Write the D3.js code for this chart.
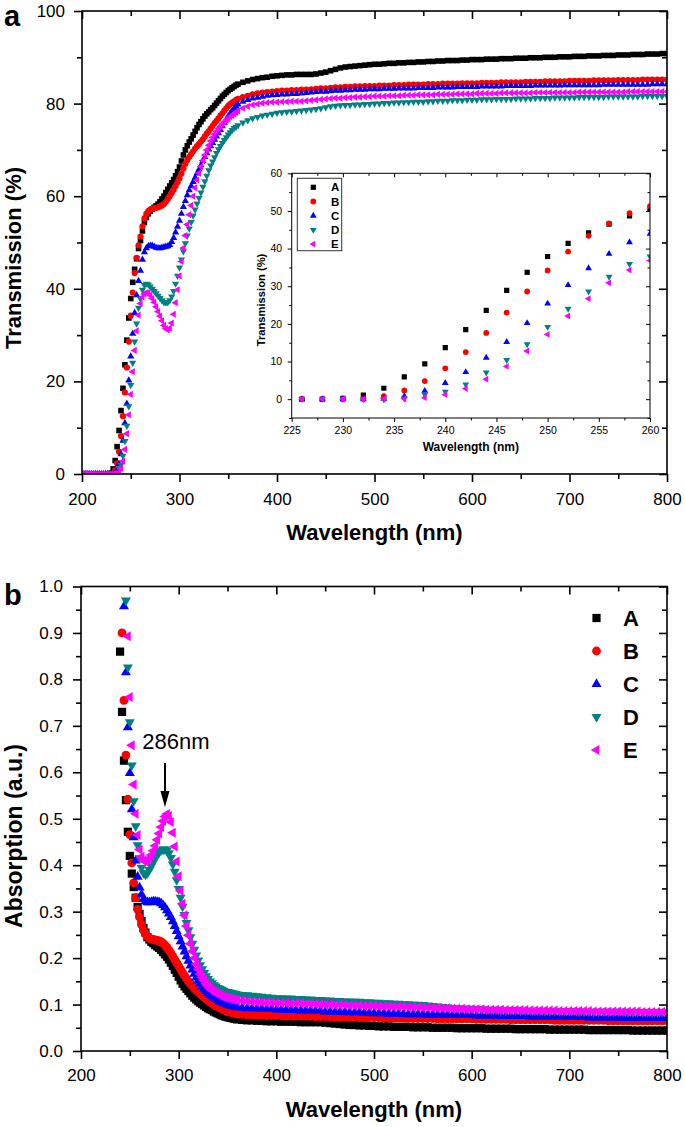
<!DOCTYPE html>
<html><head><meta charset="utf-8">
<script src="https://cdn.jsdelivr.net/npm/d3@7/dist/d3.min.js"></script>
<style>body{margin:0;background:#fff}svg{display:block}</style>
</head><body>
<svg id="chart" width="685" height="1127"></svg>
<script>
// ---------------- DATA ----------------
const seriesNames = ["A","B","C","D","E"];

const wlTrans = [200,202,204,206,208,210,212,214,216,218,220,222,224,
226,228,230,232,234,236,238,240,242,244,246,248,250,252,254,256,258,260,
262,264,266,268,270,272,274,276,278,280,282,284,286,288,290,292,294,296,298,300,
302,304,306,308,310,312,314,316,318,320,322,324,326,328,330,332,334,336,338,340,
342,344,346,348,350,352,354,356,358,360,
365,370,375,380,385,390,395,400,405,410,415,420,425,430,435,440,445,450,455,460,
465,470,475,480,485,490,495,500,505,510,515,520,525,530,535,540,545,550,555,560,
565,570,575,580,585,590,595,600,605,610,615,620,625,630,635,640,645,650,655,660,
665,670,675,680,685,690,695,700,705,710,715,720,725,730,735,740,745,750,755,760,
765,770,775,780,785,790,795,800];

const transA = [0,0,0,0,0,0,0,0,0,0,0,0,0,
0,0,0.2,1.1,2.9,5.9,9.4,13.7,18.5,23.6,28.9,33.7,37.9,41.4,44.2,46.5,48.7,50.4,
52.5,54.3,55.4,56.2,56.8,57.2,57.6,57.9,58.3,58.8,59.4,60.0,60.8,61.5,62.2,62.9,63.6,64.4,65.3,66.3,
67.6,68.9,70.0,70.9,71.7,72.4,73.2,74.0,74.8,75.5,76.1,76.7,77.3,77.8,78.2,78.7,79.1,79.6,80.1,80.6,
81.1,81.6,82.0,82.4,82.8,83.1,83.4,83.7,84.0,84.2,
84.6,84.9,85.2,85.4,85.6,85.7,85.9,86.0,86.1,86.2,86.2,86.3,86.3,86.3,86.3,86.4,86.6,86.8,87.1,87.4,
87.7,87.9,88.0,88.1,88.2,88.3,88.4,88.5,88.5,88.6,88.7,88.7,88.8,88.8,88.9,88.9,89.0,89.0,89.1,89.1,
89.2,89.2,89.3,89.3,89.3,89.4,89.4,89.5,89.5,89.5,89.6,89.6,89.6,89.7,89.7,89.7,89.8,89.8,89.8,89.9,
89.9,89.9,90.0,90.0,90.0,90.1,90.1,90.1,90.2,90.2,90.2,90.3,90.3,90.3,90.4,90.4,90.4,90.5,90.5,90.5,
90.6,90.6,90.6,90.7,90.7,90.7,90.8,90.8];

const transB = [0,0,0,0,0,0,0,0,0,0,0,0,0,
0,0,0,0.1,0.8,2.3,4.8,8.2,12.5,17.6,23.0,28.6,34.2,39.2,43.4,46.7,49.4,51.3,
53.5,55.2,56.2,56.8,57.1,57.3,57.4,57.5,57.6,57.8,58.0,58.3,58.8,59.4,60.0,60.7,61.4,62.2,63.0,63.9,
64.9,66.0,67.0,67.8,68.5,69.1,69.7,70.3,70.8,71.3,71.8,72.3,72.9,73.5,74.0,74.6,75.2,75.8,76.3,76.8,
77.4,77.9,78.5,79.0,79.5,79.9,80.2,80.5,80.8,81.0,
81.4,81.7,82.0,82.2,82.4,82.5,82.6,82.7,82.8,82.8,82.9,82.9,83.0,83.0,83.1,83.2,83.3,83.3,83.4,83.5,
83.5,83.6,83.6,83.7,83.7,83.8,83.8,83.8,83.9,83.9,83.9,84.0,84.0,84.0,84.1,84.1,84.1,84.1,84.2,84.2,
84.2,84.3,84.3,84.3,84.3,84.4,84.4,84.4,84.4,84.5,84.5,84.5,84.5,84.6,84.6,84.6,84.6,84.6,84.7,84.7,
84.7,84.7,84.8,84.8,84.8,84.8,84.8,84.9,84.9,84.9,84.9,84.9,85.0,85.0,85.0,85.0,85.0,85.1,85.1,85.1,
85.1,85.1,85.2,85.2,85.2,85.2,85.2,85.2];

const transC = [0,0,0,0,0,0,0,0,0,0,0,0,0,
0,0,0,0,0.1,0.8,2.2,4.3,7.2,11.0,15.2,20.2,25.4,30.3,34.8,38.6,41.7,43.9,
46.3,47.9,48.8,49.2,49.3,49.3,49.1,48.9,48.8,48.8,48.9,49.0,49.1,49.2,49.5,50.1,51.0,52.2,53.4,54.7,
56.2,57.7,59.0,60.2,61.3,62.2,63.1,64.0,64.9,65.8,66.7,67.6,68.5,69.3,70.1,70.8,71.5,72.2,72.9,73.6,
74.3,75.1,75.9,76.6,77.3,77.9,78.5,79.0,79.4,79.8,
80.4,80.8,81.1,81.3,81.5,81.7,81.8,81.9,82.0,82.0,82.1,82.1,82.2,82.3,82.4,82.5,82.6,82.6,82.7,82.8,
82.8,82.9,82.9,83.0,83.0,83.0,83.1,83.1,83.1,83.2,83.2,83.2,83.3,83.3,83.3,83.3,83.4,83.4,83.4,83.4,
83.5,83.5,83.5,83.5,83.6,83.6,83.6,83.6,83.6,83.7,83.7,83.7,83.7,83.7,83.8,83.8,83.8,83.8,83.8,83.8,
83.9,83.9,83.9,83.9,83.9,83.9,84.0,84.0,84.0,84.0,84.0,84.0,84.0,84.0,84.1,84.1,84.1,84.1,84.1,84.1,
84.1,84.1,84.1,84.1,84.2,84.2,84.2,84.2];

const transD = [0,0,0,0,0,0,0,0,0,0,0,0,0,
0,0,0,0,-0.1,0.2,1.2,2.0,3.9,7.1,10.4,14.6,19.2,24.0,28.6,32.5,35.9,37.9,
39.8,40.8,41.1,40.9,40.5,40.0,39.5,39.0,38.5,38.0,37.5,37.1,37.0,37.1,37.5,38.3,39.5,41.1,42.8,44.6,
46.3,48.1,49.8,51.5,53.0,54.4,55.8,57.1,58.4,59.6,60.8,62.0,63.2,64.4,65.6,66.6,67.5,68.4,69.3,70.1,
70.8,71.5,72.1,72.7,73.3,73.8,74.3,74.7,75.0,75.3,
75.9,76.4,76.8,77.1,77.4,77.6,77.8,78.0,78.1,78.2,78.3,78.4,78.5,78.6,78.7,78.8,79.0,79.2,79.4,79.5,
79.6,79.7,79.7,79.8,79.8,79.9,79.9,80.0,80.0,80.1,80.1,80.2,80.2,80.3,80.3,80.4,80.4,80.4,80.5,80.5,
80.6,80.6,80.6,80.7,80.7,80.7,80.8,80.8,80.8,80.9,80.9,80.9,81.0,81.0,81.0,81.0,81.1,81.1,81.1,81.1,
81.2,81.2,81.2,81.2,81.3,81.3,81.3,81.3,81.3,81.4,81.4,81.4,81.4,81.4,81.4,81.5,81.5,81.5,81.5,81.5,
81.5,81.5,81.6,81.6,81.6,81.6,81.6,81.6];

const transE = [0,0,0,0,0,0,0,0,0,0,0,0,0,
0,0,0,0,0.1,0.1,0.4,1.2,2.8,5.3,8.7,12.8,17.2,22.1,26.7,30.9,34.3,36.8,
38.2,38.9,39.2,39.1,38.6,37.9,37.1,36.1,35.1,34.1,33.1,32.1,31.4,31.1,31.5,32.6,34.5,37.0,39.8,42.8,
45.9,48.8,51.5,53.9,56.0,58.0,60.0,61.8,63.5,65.0,66.4,67.7,68.9,70.0,71.0,71.9,72.7,73.4,74.0,74.6,
75.1,75.6,76.0,76.4,76.8,77.2,77.5,77.8,78.1,78.4,
79.0,79.4,79.7,79.9,80.1,80.2,80.3,80.3,80.4,80.4,80.5,80.5,80.5,80.6,80.7,80.8,80.9,81.0,81.1,81.2,
81.2,81.3,81.3,81.4,81.4,81.5,81.5,81.6,81.6,81.6,81.7,81.7,81.7,81.8,81.8,81.8,81.9,81.9,81.9,81.9,
82.0,82.0,82.0,82.0,82.1,82.1,82.1,82.1,82.2,82.2,82.2,82.2,82.2,82.3,82.3,82.3,82.3,82.3,82.3,82.3,
82.4,82.4,82.4,82.4,82.4,82.4,82.4,82.4,82.4,82.5,82.5,82.5,82.5,82.5,82.5,82.5,82.5,82.5,82.5,82.6,
82.6,82.6,82.6,82.6,82.6,82.6,82.6,82.6];

const wlAbs = [240,242,244,246,248,250,252,254,256,258,260,
262,264,266,268,270,272,274,276,278,280,282,284,286,288,290,292,294,296,298,300,
302,304,306,308,310,312,314,316,318,320,322,324,326,328,330,332,334,336,338,340,
342,344,346,348,350,352,354,356,358,360,
365,370,375,380,385,390,395,400,405,410,415,420,425,430,435,440,445,450,455,460,
465,470,475,480,485,490,495,500,505,510,515,520,525,530,535,540,545,550,555,560,
565,570,575,580,585,590,595,600,605,610,615,620,625,630,635,640,645,650,655,660,
665,670,675,680,685,690,695,700,705,710,715,720,725,730,735,740,745,750,755,760,
765,770,775,780,785,790,795,800];

const absA = [0.86,0.73,0.625,0.54,0.472,0.42,0.382,0.353,0.33,0.31,0.295,
0.28,0.265,0.255,0.245,0.24,0.235,0.232,0.228,0.225,0.222,0.218,0.213,0.208,0.203,0.197,0.19,0.183,0.175,0.168,0.16,
0.152,0.145,0.139,0.134,0.129,0.124,0.119,0.115,0.111,0.107,0.104,0.101,0.098,0.095,0.092,0.09,0.088,0.085,0.083,0.081,
0.079,0.077,0.076,0.074,0.073,0.072,0.071,0.07,0.069,0.068,
0.067,0.066,0.066,0.065,0.065,0.064,0.064,0.064,0.063,0.063,0.063,0.063,0.062,0.062,0.062,0.062,0.062,0.061,0.060,0.059,
0.058,0.057,0.056,0.056,0.055,0.055,0.054,0.054,0.053,0.053,0.053,0.052,0.052,0.052,0.052,0.051,0.051,0.051,0.051,0.050,
0.050,0.050,0.050,0.050,0.049,0.049,0.049,0.049,0.049,0.049,0.048,0.048,0.048,0.048,0.048,0.048,0.047,0.047,0.047,0.047,
0.047,0.047,0.047,0.046,0.046,0.046,0.046,0.046,0.046,0.046,0.046,0.045,0.045,0.045,0.045,0.045,0.045,0.045,0.045,0.045,
0.044,0.044,0.044,0.044,0.044,0.044,0.044,0.044];

const absB = [null,0.90,0.755,0.637,0.542,0.466,0.405,0.362,0.33,0.305,0.288,
0.272,0.26,0.252,0.246,0.243,0.241,0.24,0.239,0.238,0.237,0.235,0.232,0.228,0.223,0.217,0.211,0.204,0.197,0.19,0.183,
0.176,0.169,0.162,0.156,0.15,0.145,0.14,0.135,0.131,0.127,0.123,0.119,0.116,0.112,0.109,0.106,0.103,0.1,0.097,0.095,
0.093,0.091,0.089,0.087,0.085,0.084,0.083,0.082,0.081,0.08,
0.079,0.078,0.078,0.077,0.077,0.076,0.076,0.076,0.076,0.075,0.075,0.075,0.075,0.075,0.075,0.074,0.074,0.074,0.074,0.073,
0.073,0.073,0.073,0.073,0.072,0.072,0.072,0.072,0.072,0.071,0.071,0.071,0.071,0.071,0.070,0.070,0.070,0.070,0.070,0.070,
0.069,0.069,0.069,0.069,0.069,0.069,0.069,0.069,0.068,0.068,0.068,0.068,0.068,0.068,0.068,0.067,0.067,0.067,0.067,0.067,
0.067,0.067,0.067,0.067,0.066,0.066,0.066,0.066,0.066,0.066,0.066,0.066,0.066,0.066,0.066,0.065,0.065,0.065,0.065,0.065,
0.065,0.065,0.065,0.065,0.065,0.065,0.065,0.065];

const absC = [null,null,0.957,0.815,0.697,0.598,0.52,0.46,0.41,0.375,0.352,
0.337,0.327,0.322,0.32,0.32,0.321,0.322,0.322,0.321,0.32,0.318,0.314,0.309,0.303,0.296,0.288,0.279,0.269,0.258,0.247,
0.236,0.225,0.214,0.204,0.194,0.184,0.175,0.166,0.158,0.151,0.145,0.139,0.134,0.129,0.125,0.121,0.118,0.115,0.112,0.11,
0.107,0.105,0.103,0.101,0.099,0.098,0.097,0.096,0.095,0.094,
0.093,0.092,0.092,0.091,0.091,0.090,0.090,0.089,0.089,0.088,0.088,0.088,0.087,0.087,0.087,0.086,0.086,0.085,0.085,0.084,
0.084,0.084,0.083,0.083,0.083,0.082,0.082,0.081,0.081,0.081,0.080,0.080,0.080,0.080,0.079,0.079,0.079,0.079,0.078,0.078,
0.078,0.078,0.078,0.077,0.077,0.077,0.077,0.077,0.076,0.076,0.076,0.076,0.076,0.075,0.075,0.075,0.075,0.075,0.075,0.074,
0.074,0.074,0.074,0.074,0.074,0.073,0.073,0.073,0.073,0.073,0.073,0.072,0.072,0.072,0.072,0.072,0.072,0.072,0.071,0.071,
0.071,0.071,0.071,0.071,0.071,0.071,0.071,0.071];

const absD = [null,null,null,0.97,0.826,0.708,0.615,0.538,0.484,0.443,0.415,
0.395,0.383,0.38,0.383,0.39,0.398,0.407,0.415,0.422,0.428,0.432,0.434,0.434,0.432,0.426,0.416,0.402,0.386,0.368,0.349,
0.33,0.311,0.293,0.276,0.26,0.245,0.231,0.218,0.206,0.195,0.185,0.176,0.168,0.161,0.155,0.15,0.146,0.142,0.139,0.136,
0.134,0.132,0.13,0.128,0.127,0.126,0.125,0.124,0.123,0.122,
0.121,0.120,0.119,0.118,0.117,0.116,0.115,0.114,0.114,0.113,0.113,0.112,0.112,0.111,0.111,0.110,0.110,0.109,0.109,0.108,
0.108,0.107,0.107,0.106,0.106,0.105,0.105,0.104,0.104,0.103,0.103,0.102,0.102,0.101,0.101,0.100,0.100,0.099,0.098,0.097,
0.096,0.095,0.094,0.093,0.092,0.092,0.091,0.091,0.090,0.090,0.089,0.089,0.089,0.088,0.088,0.088,0.088,0.087,0.087,0.087,
0.087,0.087,0.086,0.086,0.086,0.086,0.086,0.086,0.086,0.085,0.085,0.085,0.085,0.085,0.085,0.085,0.085,0.085,0.085,0.084,
0.084,0.084,0.084,0.084,0.084,0.084,0.084,0.084];

const absE = [null,null,null,null,0.893,0.762,0.658,0.574,0.511,0.465,0.434,
0.418,0.41,0.408,0.41,0.415,0.422,0.431,0.442,0.455,0.468,0.482,0.495,0.505,0.51,0.506,0.493,0.47,0.44,0.408,0.376,
0.345,0.317,0.292,0.269,0.249,0.231,0.215,0.2,0.187,0.176,0.166,0.158,0.151,0.145,0.14,0.135,0.131,0.128,0.125,0.122,
0.12,0.118,0.116,0.115,0.114,0.113,0.112,0.111,0.11,0.109,
0.108,0.107,0.106,0.105,0.105,0.104,0.104,0.103,0.103,0.103,0.102,0.102,0.102,0.101,0.101,0.101,0.100,0.100,0.100,0.099,
0.099,0.099,0.098,0.098,0.098,0.097,0.097,0.097,0.096,0.096,0.096,0.095,0.095,0.095,0.094,0.094,0.094,0.093,0.093,0.093,
0.092,0.092,0.092,0.091,0.091,0.091,0.090,0.090,0.090,0.090,0.089,0.089,0.089,0.089,0.088,0.088,0.088,0.088,0.088,0.087,
0.087,0.087,0.087,0.087,0.087,0.086,0.086,0.086,0.086,0.086,0.086,0.086,0.085,0.085,0.085,0.085,0.085,0.085,0.085,0.085,
0.085,0.085,0.084,0.084,0.084,0.084,0.084,0.084];

// ticks
const wlMajorTicks = [200,300,400,500,600,700,800];
const wlMinorTicks = [250,350,450,550,650,750];
const transMajorTicks = [0,20,40,60,80,100];
const transMinorTicks = [10,30,50,70,90];
const absMajorTicks = [0,0.1,0.2,0.3,0.4,0.5,0.6,0.7,0.8,0.9,1.0];
const absMinorTicks = [0.05,0.15,0.25,0.35,0.45,0.55,0.65,0.75,0.85,0.95];
const insetXMajorTicks = [225,230,235,240,245,250,255,260];
const insetXMinorTicks = [227.5,232.5,237.5,242.5,247.5,252.5,257.5];
const insetYMajorTicks = [0,10,20,30,40,50,60];
const insetYMinorTicks = [-5,5,15,25,35,45,55];
const peakLabel = "286nm";
const peakWavelength = 286;

// ---------------- STYLE ----------------
const seriesColors = ["#000000","#ff0000","#0000ff","#008080","#ff00ff"];
const seriesShapes = ["square","circle","up","down","left"];
const FONT = "Arial, 'Liberation Sans', Helvetica, sans-serif";

const svg = d3.select("#chart");
const defs = svg.append("defs");

const boxA = {l:82, r:667, t:11, b:474};
const boxB = {l:81, r:667, t:586.5, b:1051};
const boxI = {l:291.7, r:650, t:173.3, b:418};

const xA = d3.scaleLinear().domain([200,800]).range([boxA.l, boxA.r]);
const yA = d3.scaleLinear().domain([0,100]).range([boxA.b, boxA.t]);
const xB = d3.scaleLinear().domain([200,800]).range([boxB.l, boxB.r]);
const yB = d3.scaleLinear().domain([0,1]).range([boxB.b, boxB.t]);
const xI = d3.scaleLinear().domain([225,260]).range([boxI.l, boxI.r]);
const yI = d3.scaleLinear().domain([-5,60]).range([boxI.b, boxI.t]);

function addClip(id, b){
  defs.append("clipPath").attr("id", id).append("rect")
    .attr("x", b.l).attr("y", b.t).attr("width", b.r-b.l).attr("height", b.b-b.t);
}
addClip("clipA", boxA); addClip("clipB", boxB); addClip("clipI", boxI);

function marker(shape, w){
  if (shape === "square") return {d: d3.symbol(d3.symbolSquare, w*w)(), rot:0};
  if (shape === "circle") return {d: d3.symbol(d3.symbolCircle, Math.PI*w*w/4)(), rot:0};
  const d = d3.symbol(d3.symbolTriangle, Math.sqrt(3)/4*w*w)();
  return {d, rot: shape==="down"?180:(shape==="left"?-90:0)};
}
const sizesA = {square:5.6, circle:6.2, up:7.2, down:7.2, left:7.2};
const sizesB = {square:8.2, circle:8.8, up:10, down:10, left:10};
const sizesI = {square:5.2, circle:5.8, up:6.8, down:6.8, left:6.8};

function drawSeries(g, xs, ys, x, y, i, sizes, xFilter){
  const m = marker(seriesShapes[i], sizes[seriesShapes[i]]);
  const pts = xs.map((v,k)=>[v, ys[k]]).filter(d => d[1] !== null && (!xFilter || xFilter(d[0])));
  g.append("g").selectAll("path").data(pts).join("path")
    .attr("d", m.d).attr("fill", seriesColors[i])
    .attr("transform", d => `translate(${x(d[0]).toFixed(2)},${y(d[1]).toFixed(2)}) rotate(${m.rot})`);
}

function drawAxes(g, x, y, b, o){
  const sw = o.sw;
  const specs = [
    {gen:d3.axisBottom, sc:x, tr:`translate(0,${b.b})`, maj:o.xMaj, min:o.xMin, lab:true, fmt:o.xFmt, pad:o.xPad},
    {gen:d3.axisBottom, sc:x, tr:`translate(0,${b.t})`, maj:o.xMaj, min:o.xMin, lab:false},
    {gen:d3.axisLeft, sc:y, tr:`translate(${b.l},0)`, maj:o.yMaj, min:o.yMin, lab:true, fmt:o.yFmt, pad:o.yPad},
    {gen:d3.axisLeft, sc:y, tr:`translate(${b.r},0)`, maj:o.yMaj, min:o.yMin, lab:false}
  ];
  specs.forEach(s => {
    const ax = s.gen(s.sc).tickValues(s.maj).tickSize(o.major).tickSizeOuter(0)
      .tickPadding(s.lab ? s.pad : 0).tickFormat(s.lab ? s.fmt : () => "");
    const ga = g.append("g").attr("transform", s.tr).call(ax);
    const axm = s.gen(s.sc).tickValues(s.min).tickSize(o.minor).tickSizeOuter(0).tickFormat(() => "");
    const gm = g.append("g").attr("transform", s.tr).call(axm);
    [ga, gm].forEach(gg => {
      gg.select(".domain").remove();
      gg.selectAll("line").attr("stroke", "#000").attr("stroke-width", sw);
      gg.attr("font-family", FONT).attr("font-size", o.fs);
      gg.selectAll("text").attr("fill", "#000");
    });
  });
  g.append("rect").attr("x", b.l).attr("y", b.t).attr("width", b.r-b.l).attr("height", b.b-b.t)
    .attr("fill", "none").attr("stroke", "#000").attr("stroke-width", sw);
}

// ---------------- PANEL A ----------------
const transSeries = [transA, transB, transC, transD, transE];
const gA = svg.append("g");
const gAdata = gA.append("g").attr("clip-path", "url(#clipA)");
transSeries.forEach((s,i) => drawSeries(gAdata, wlTrans, s, xA, yA, i, sizesA));
drawAxes(gA, xA, yA, boxA, {sw:1.6, major:8, minor:5, fs:17,
  xMaj:wlMajorTicks, xMin:wlMinorTicks, xFmt:d3.format("d"), xPad:11,
  yMaj:transMajorTicks, yMin:transMinorTicks, yFmt:d3.format("d"), yPad:9});
gA.append("text").attr("x", (boxA.l+boxA.r)/2).attr("y", 540).attr("text-anchor","middle")
  .attr("font-family", FONT).attr("font-weight","bold").attr("font-size", 22).text("Wavelength (nm)");
gA.append("text").attr("transform", "translate(21,258) rotate(-90)").attr("text-anchor","middle")
  .attr("font-family", FONT).attr("font-weight","bold").attr("font-size", 22).text("Transmission (%)");
gA.append("text").attr("x", 4).attr("y", 26).attr("font-family", FONT).attr("font-weight","bold")
  .attr("font-size", 29).text("a");

// ---------------- INSET ----------------
const gI = svg.append("g");
const gIdata = gI.append("g").attr("clip-path", "url(#clipI)");
transSeries.forEach((s,i) => drawSeries(gIdata, wlTrans, s, xI, yI, i, sizesI, v => v >= 225 && v <= 261));
drawAxes(gI, xI, yI, boxI, {sw:1, major:4, minor:2.5, fs:10.5,
  xMaj:insetXMajorTicks, xMin:insetXMinorTicks, xFmt:d3.format("d"), xPad:4.5,
  yMaj:insetYMajorTicks, yMin:insetYMinorTicks, yFmt:d3.format("d"), yPad:5.5});
gI.append("text").attr("x", (boxI.l+boxI.r)/2).attr("y", 451).attr("text-anchor","middle")
  .attr("font-family", FONT).attr("font-weight","bold").attr("font-size", 12).text("Wavelength (nm)");
gI.append("text").attr("transform", "translate(264.5,300) rotate(-90)").attr("text-anchor","middle")
  .attr("font-family", FONT).attr("font-weight","bold").attr("font-size", 11.2).text("Transmission (%)");
// inset legend
const legI = gI.append("g");
legI.append("rect").attr("x", 297.3).attr("y", 178.3).attr("width", 44.4).attr("height", 72.4)
  .attr("fill", "#fff").attr("stroke", "#333").attr("stroke-width", 1);
seriesNames.forEach((n,i) => {
  const yy = 187.3 + i*14.2;
  const m = marker(seriesShapes[i], sizesI[seriesShapes[i]]);
  legI.append("path").attr("d", m.d).attr("fill", seriesColors[i])
    .attr("transform", `translate(313.3,${yy}) rotate(${m.rot})`);
  legI.append("text").attr("x", 331).attr("y", yy+4).attr("font-family", FONT).attr("font-weight","bold")
    .attr("font-size", 11.5).text(n);
});

// ---------------- PANEL B ----------------
const absSeries = [absA, absB, absC, absD, absE];
const gB = svg.append("g");
const gBdata = gB.append("g").attr("clip-path", "url(#clipB)");
absSeries.forEach((s,i) => drawSeries(gBdata, wlAbs, s, xB, yB, i, sizesB));
drawAxes(gB, xB, yB, boxB, {sw:1.6, major:8, minor:5, fs:17,
  xMaj:wlMajorTicks, xMin:wlMinorTicks, xFmt:d3.format("d"), xPad:10,
  yMaj:absMajorTicks, yMin:absMinorTicks, yFmt:d3.format(".1f"), yPad:10});
gB.append("text").attr("x", (boxB.l+boxB.r)/2).attr("y", 1117).attr("text-anchor","middle")
  .attr("font-family", FONT).attr("font-weight","bold").attr("font-size", 22).text("Wavelength (nm)");
gB.append("text").attr("transform", "translate(22,836) rotate(-90)").attr("text-anchor","middle")
  .attr("font-family", FONT).attr("font-weight","bold").attr("font-size", 23).text("Absorption (a.u.)");
gB.append("text").attr("x", 4).attr("y", 605).attr("font-family", FONT).attr("font-weight","bold")
  .attr("font-size", 29).text("b");
// legend
const legB = gB.append("g");
seriesNames.forEach((n,i) => {
  const yy = 618 + i*33;
  const m = marker(seriesShapes[i], sizesB[seriesShapes[i]]);
  legB.append("path").attr("d", m.d).attr("fill", seriesColors[i])
    .attr("transform", `translate(596.5,${yy}) rotate(${m.rot})`);
  legB.append("text").attr("x", 623).attr("y", yy+8).attr("font-family", FONT).attr("font-weight","bold")
    .attr("font-size", 22).text(n);
});
// annotation
const ax = xB(peakWavelength);
gB.append("text").attr("x", ax + 11).attr("y", yB(0.65)).attr("text-anchor","middle")
  .attr("font-family", FONT).attr("font-size", 22).text(peakLabel);
gB.append("line").attr("x1", ax).attr("x2", ax).attr("y1", yB(0.62)).attr("y2", yB(0.55))
  .attr("stroke", "#000").attr("stroke-width", 2);
gB.append("path").attr("d", `M${ax-4.5},${yB(0.56)}L${ax+4.5},${yB(0.56)}L${ax},${yB(0.525)}Z`).attr("fill", "#000");
</script>
</body></html>
